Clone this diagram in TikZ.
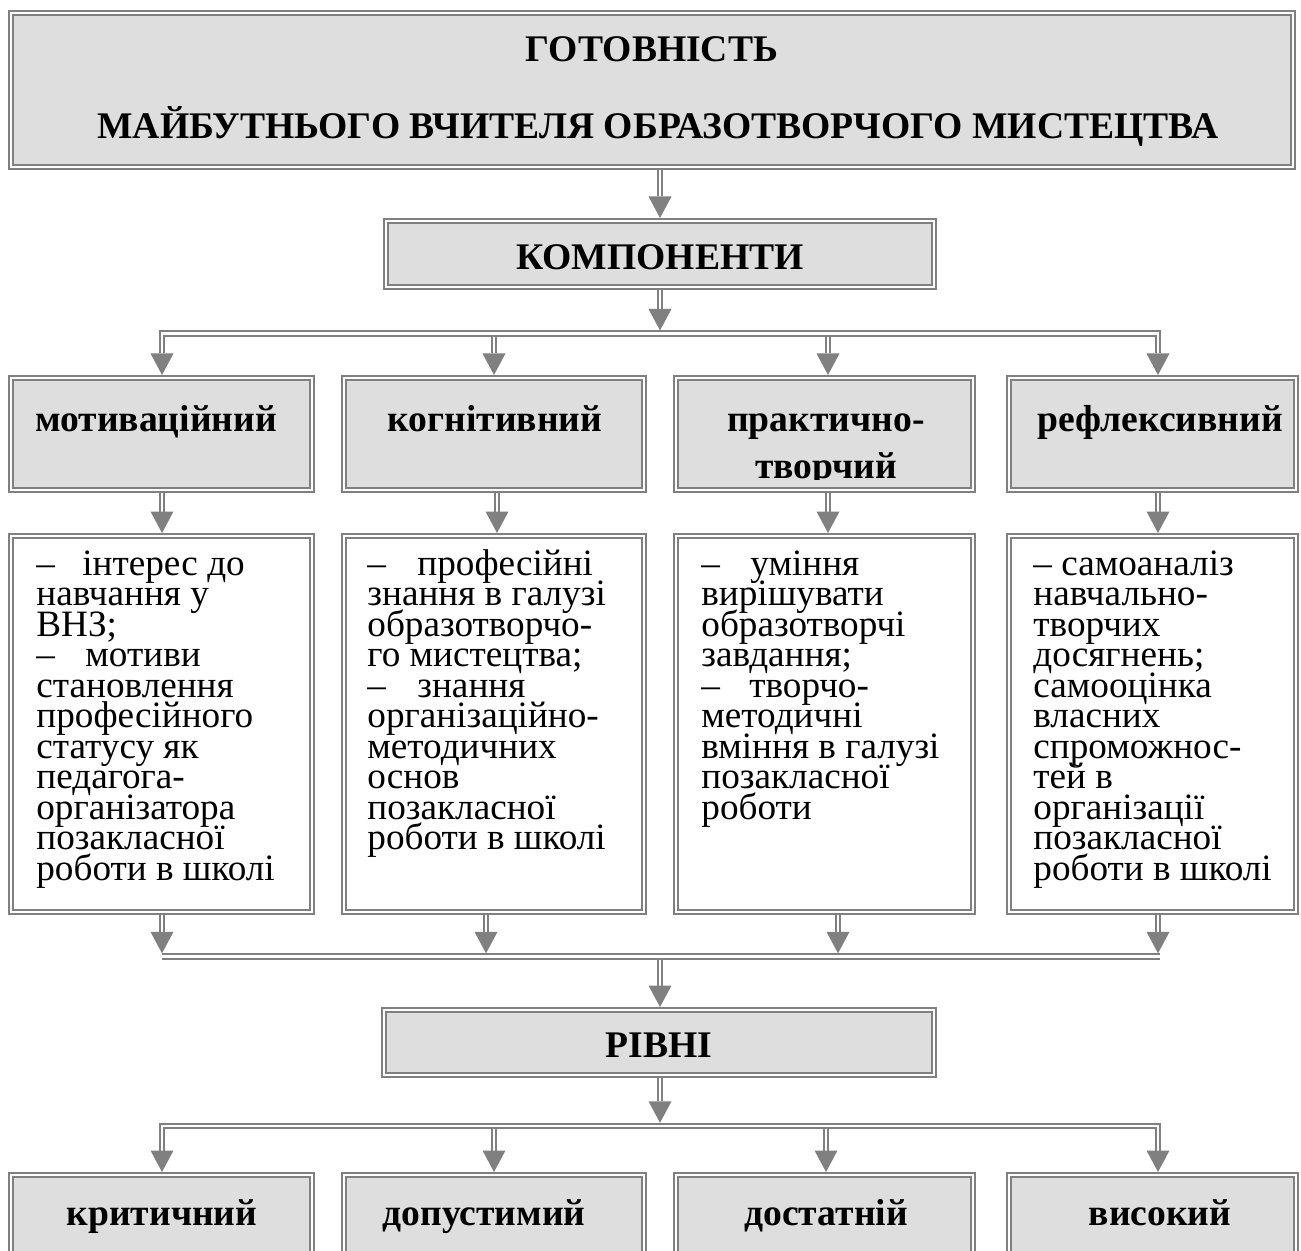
\documentclass[tikz,border=0pt]{standalone}
\usepackage{fontspec}
\setmainfont{Liberation Serif}
\usetikzlibrary{calc}
\definecolor{lg}{HTML}{808080}
\definecolor{bf}{HTML}{DEDEDE}
\tikzset{
  box/.style={rectangle, draw=lg, line width=1.1pt, double=white, double distance=1pt, inner sep=0pt, outer sep=1.6pt},
  hbox/.style={box, fill=bf},
  cbox/.style={box, fill=white},
  shaft/.style={draw=lg, line width=1pt, double=white, double distance=1.2pt},
  tipc/.style={fill=lg},
  btxt/.style={font=\fontsize{18.8}{22}\selectfont\bfseries, inner sep=0pt, anchor=base},
  ctxt/.style={inner sep=0pt, anchor=base west},
}
\newcommand\mydntip[1]{\fill[tipc] ($(#1)+(-11.5,-21.5)$) -- ($(#1)+(11.5,-21.5)$) -- (#1) -- cycle;}
\newcommand\mydnarrow[2]{\draw[shaft] (#1) -- ($(#2)+(0,-21.5)$); \mydntip{#2}}
\newcommand\ctext[1]{\parbox[t]{170pt}{\raggedright\fontsize{18.6}{15.25}\selectfont\lineskiplimit=-100pt\lineskip=0pt #1}}
\begin{document}
\begin{tikzpicture}[x=0.5pt,y=-0.5pt]
\useasboundingbox (0,0) rectangle (1301,1251);
\clip (0,0) rectangle (1301,1251);
% ---------- boxes
\node[hbox, minimum width=640.8pt, minimum height=76.8pt] (title) at (652,90) {};
\node[hbox, minimum width=273.8pt, minimum height=32.8pt] (komp) at (660,254) {};
\node[hbox, minimum width=274.8pt, minimum height=32.3pt] (rivni) at (659,1042.5) {};
\node[hbox, minimum width=150.3pt, minimum height=55.8pt] (h1) at (161.5,434) {};
\node[hbox, minimum width=149.8pt, minimum height=55.8pt] (h2) at (494,434) {};
\node[hbox, minimum width=148.3pt, minimum height=55.8pt] (h3) at (824.5,434) {};
\node[hbox, minimum width=143.3pt, minimum height=55.8pt] (h4) at (1152.5,434) {};
\node[cbox, minimum width=150.3pt, minimum height=187.8pt] (c1) at (161.5,724) {};
\node[cbox, minimum width=149.8pt, minimum height=187.8pt] (c2) at (494,724) {};
\node[cbox, minimum width=148.3pt, minimum height=187.8pt] (c3) at (824.5,724) {};
\node[cbox, minimum width=143.3pt, minimum height=187.8pt] (c4) at (1152.5,724) {};
\node[hbox, minimum width=150.3pt, minimum height=56.8pt] (l1) at (161.5,1232) {};
\node[hbox, minimum width=149.8pt, minimum height=56.8pt] (l2) at (494,1232) {};
\node[hbox, minimum width=148.3pt, minimum height=56.8pt] (l3) at (824.5,1232) {};
\node[hbox, minimum width=143.3pt, minimum height=56.8pt] (l4) at (1152.5,1232) {};
% ---------- texts
\node[btxt] (t1) at (652,62) {ГОТОВНІСТЬ};
\node[btxt] (t2) at (658,138.5) {МАЙБУТНЬОГО ВЧИТЕЛЯ ОБРАЗОТВОРЧОГО МИСТЕЦТВА};
\node[btxt] (tk) at (660,270) {КОМПОНЕНТИ};
\node[btxt] (tr) at (659,1057) {РІВНІ};
\node[btxt] (th1) at (156,431) {мотиваційний};
\node[btxt] (th2) at (495,431) {когнітивний};
\node[btxt] (th3) at (826,431) {практично-};
\begin{scope}
\clip (673,380) rectangle (976,480);
\node[btxt] (th3b) at (826,479) {творчий};
\end{scope}
\node[btxt] (th4) at (1160,431) {рефлексивний};
\node[btxt] (tl1) at (162,1225) {критичний};
\node[btxt] (tl2) at (484,1225) {допустимий};
\node[btxt] (tl3) at (826,1225) {достатній};
\node[btxt] (tl4) at (1160,1225) {високий};
\node[ctxt] (tc1) at (36,575) {\ctext{–\hspace{13.7pt}інтерес до\\навчання у\\ВНЗ;\\–\hspace{15.2pt}мотиви\\становлення\\професійного\\статусу як\\педагога-\\організатора\\позакласної\\роботи в школі}};
\node[ctxt] (tc2) at (367,575) {\ctext{–\hspace{15.7pt}професійні\\знання в галузі\\образотворчо-\\го мистецтва;\\–\hspace{15.7pt}знання\\організаційно-\\методичних\\основ\\позакласної\\роботи в школі}};
\node[ctxt] (tc3) at (701,575) {\ctext{–\hspace{15.2pt}уміння\\вирішувати\\образотворчі\\завдання;\\–\hspace{14.7pt}творчо-\\методичні\\вміння в галузі\\позакласної\\роботи}};
\node[ctxt] (tc4) at (1033,575) {\ctext{– самоаналіз\\навчально-\\творчих\\досягнень;\\самооцінка\\власних\\спроможнос-\\тей в\\організації\\позакласної\\роботи в школі}};
% ---------- reference coordinates
\coordinate (X1) at (162,0); \coordinate (X2) at (494,0); \coordinate (X3) at (828,0); \coordinate (X4) at (1158,0);
\coordinate (Y2) at (497,0); \coordinate (Z2) at (486,0); \coordinate (Z3) at (838,0); \coordinate (W3) at (826,0);
\coordinate (M) at (660,0);
\coordinate (B1) at (660,333.7); \coordinate (B2) at (660,956.5); \coordinate (B3) at (660,1126);
\coordinate (B1t) at (660,330.5); \coordinate (B1b) at (660,336.9);
\coordinate (B2t) at (660,953.3); \coordinate (B2b) at (660,959.7);
\coordinate (B3t) at (660,1122.8); \coordinate (B3b) at (660,1129.2);
% ---------- connectors
\mydnarrow{title.south -| komp.north}{komp.north}
\mydnarrow{komp.south}{B1t}
\draw[shaft] ($(h1.north -| X1)+(0,-21.5)$) -- (B1 -| X1) -- (B1 -| X4) -- ($(h4.north -| X4)+(0,-21.5)$);
\mydntip{h1.north -| X1}
\mydntip{h4.north -| X4}
\mydnarrow{B1b -| X2}{h2.north -| X2}
\mydnarrow{B1b -| X3}{h3.north -| X3}
\mydnarrow{h1.south -| X1}{c1.north -| X1}
\mydnarrow{h2.south -| Y2}{c2.north -| Y2}
\mydnarrow{h3.south -| X3}{c3.north -| X3}
\mydnarrow{h4.south -| X4}{c4.north -| X4}
\draw[shaft] (B2 -| X1) -- ($(B2 -| X4)+(2,0)$);
\mydnarrow{c1.south -| X1}{B2t -| X1}
\mydnarrow{c2.south -| Z2}{B2t -| Z2}
\mydnarrow{c3.south -| Z3}{B2t -| Z3}
\mydnarrow{c4.south -| X4}{B2t -| X4}
\mydnarrow{B2b}{rivni.north -| M}
\mydnarrow{rivni.south -| M}{B3t}
\draw[shaft] ($(l1.north -| X1)+(0,-21.5)$) -- (B3 -| X1) -- (B3 -| X4) -- ($(l4.north -| X4)+(0,-21.5)$);
\mydntip{l1.north -| X1}
\mydntip{l4.north -| X4}
\mydnarrow{B3b -| X2}{l2.north -| X2}
\mydnarrow{B3b -| W3}{l3.north -| W3}
\end{tikzpicture}
\end{document}
